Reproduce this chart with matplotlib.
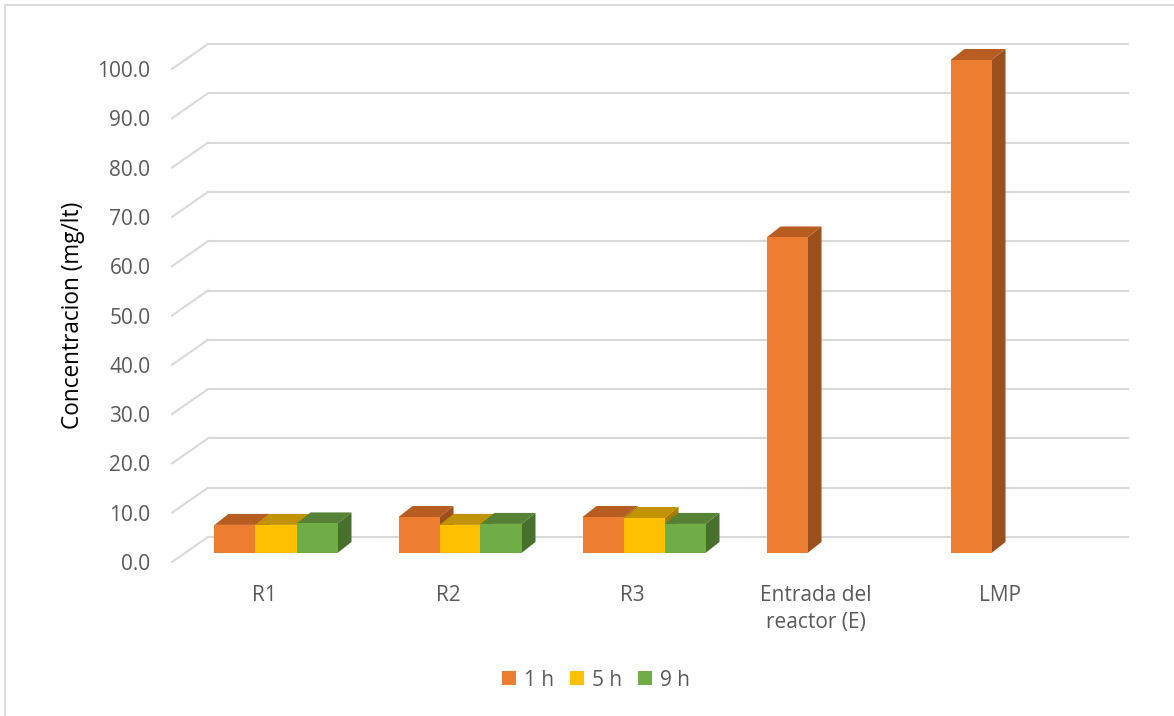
import numpy as np
import matplotlib
matplotlib.use('Agg')
import matplotlib.pyplot as plt
from matplotlib.patches import Polygon
from matplotlib.lines import Line2D

plt.rcParams['font.family'] = ['Open Sans', 'DejaVu Sans']

categories = ['R1', 'R2', 'R3', 'Entrada del\nreactor (E)', 'LMP']
series = ['1 h', '5 h', '9 h']
vals_1h = [5.7, 7.3, 7.3, 64.0, 100.0]
vals_5h = [5.7, 5.7, 7.1, np.nan, np.nan]
vals_9h = [6.0, 5.9, 5.9, np.nan, np.nan]
yticks = np.arange(0, 101, 10)

front_c = ['#ED7D31', '#FFC000', '#70AD47']
top_c = ['#B75D22', '#C29300', '#558235']
side_c = ['#9A4F1D', '#A67D00', '#47702D']
grid_c = '#D9D9D9'
text_c = '#595959'

W, H = 1174, 716
fig = plt.figure(figsize=(W / 100, H / 100), dpi=100)
fig.patch.set_facecolor('white')

# axes = front plane of the 3d box
ax = fig.add_axes([172 / W, (H - 562) / H, 920 / W, 493 / H])
ax.set_xlim(-0.5, 4.5)
ax.set_ylim(0, 100)
for s in ax.spines.values():
    s.set_visible(False)


def px(dx, dy):
    # pixel vector -> data vector
    inv = ax.transData.inverted()
    o = ax.transData.transform((0, 0))
    p = inv.transform(o + np.array([dx, dy]))
    return p[0], p[1]


wall_dx, wall_dy = px(36, 25)    # back wall depth
off_dx, off_dy = px(12, 9)       # bars sit a bit behind the front plane
dep_dx, dep_dy = px(14, 11)      # bar depth

# back wall gridlines and side wall diagonals
for v in yticks:
    ax.plot([-0.5 + wall_dx, 4.5 + wall_dx], [v + wall_dy, v + wall_dy],
            color=grid_c, lw=1.5, clip_on=False, zorder=1)
    ax.plot([-0.5, -0.5 + wall_dx], [v, v + wall_dy],
            color=grid_c, lw=1.5, clip_on=False, zorder=1)

x = np.arange(len(categories))
bw = 41 / 184
all_vals = [vals_1h, vals_5h, vals_9h]
handles = []
for j, vals in enumerate(all_vals):
    vals = np.array(vals, dtype=float)
    xs = x + (j - 1) * bw + off_dx
    ok = ~np.isnan(vals)
    bars = ax.bar(xs[ok], vals[ok], width=bw, bottom=off_dy, color=front_c[j],
                  linewidth=0, clip_on=False, zorder=4 + 2 * j, label=series[j])
    handles.append(bars)
    for xc, v in zip(xs[ok], vals[ok]):
        x0, x1 = xc - bw / 2, xc + bw / 2
        yt = off_dy + v
        side = Polygon([(x1, off_dy), (x1, yt), (x1 + dep_dx, yt + dep_dy),
                        (x1 + dep_dx, off_dy + dep_dy)], closed=True,
                       facecolor=side_c[j], lw=0, clip_on=False, zorder=3 + 2 * j)
        top = Polygon([(x0, yt), (x1, yt), (x1 + dep_dx, yt + dep_dy),
                       (x0 + dep_dx, yt + dep_dy)], closed=True,
                      facecolor=top_c[j], lw=0, clip_on=False, zorder=3 + 2 * j)
        ax.add_patch(side)
        ax.add_patch(top)

ax.set_yticks(yticks)
ax.set_yticklabels([f'{v:.1f}' for v in yticks])
ax.set_xticks(x)
ax.set_xticklabels(categories)
ax.tick_params(axis='y', length=0, pad=15.5, labelsize=15, labelcolor=text_c)
ax.tick_params(axis='x', length=0, pad=16.5, labelsize=15, labelcolor=text_c)
for t in ax.get_xticklabels():
    t.set_linespacing(1.35)

fig.text(73 / W, 1 - 315 / H, 'Concentracion (mg/lt)', rotation=90,
         ha='center', va='center', fontsize=16.3, color='black')

fig.legend(handles=handles, labels=series, loc='center',
           bbox_to_anchor=(596 / W, 1 - 680 / H), ncol=3, frameon=False,
           fontsize=15, labelcolor=text_c, handlelength=0.67, handleheight=0.67,
           handletextpad=0.35, columnspacing=0.8)

# chart area border (left and top edges)
fig.add_artist(Line2D([5 / W, 1], [1 - 5 / H, 1 - 5 / H], transform=fig.transFigure,
                      color=grid_c, lw=1.3))
fig.add_artist(Line2D([5 / W, 5 / W], [0, 1 - 5 / H], transform=fig.transFigure,
                      color=grid_c, lw=1.3))

fig.savefig('out.png', dpi=100)
